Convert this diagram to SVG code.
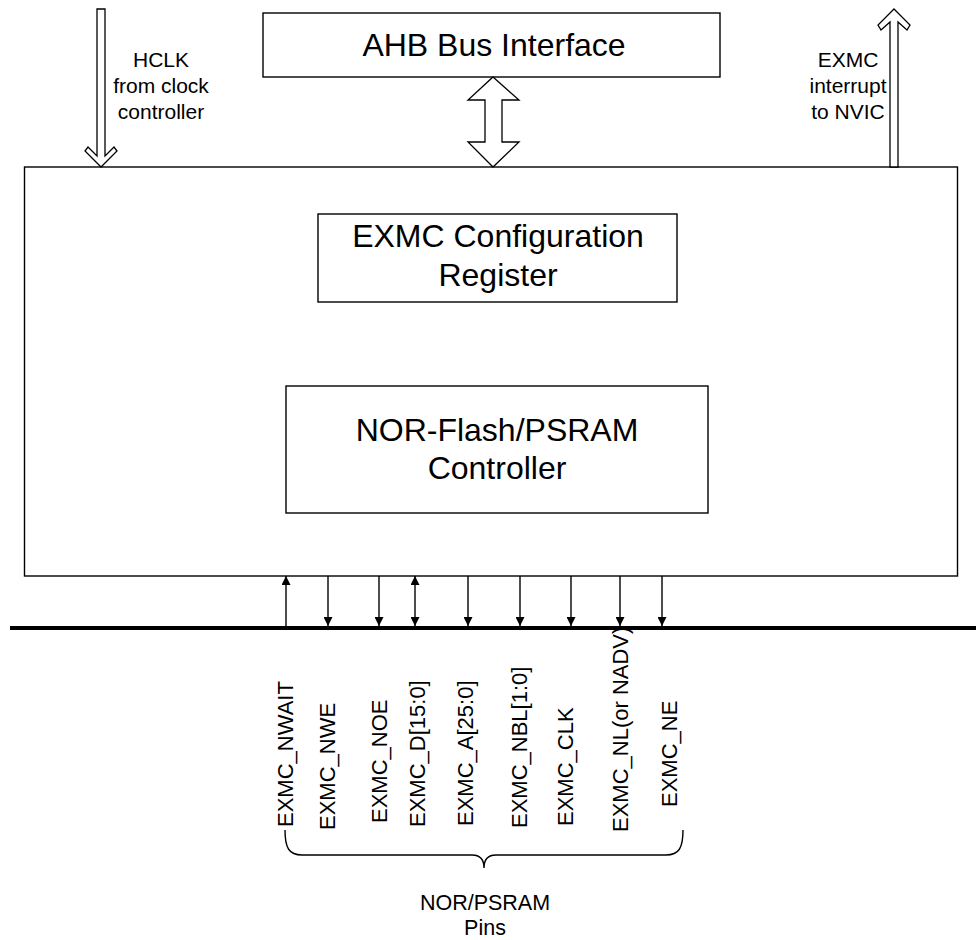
<svg xmlns="http://www.w3.org/2000/svg" width="976" height="940" viewBox="0 0 976 940">
<defs>
<style>
.box{fill:#fff;stroke:#000;stroke-width:1.4}
.big{font-family:"Liberation Sans",Arial,sans-serif;font-size:32px;fill:#000;text-anchor:middle}
.sm{font-family:"Liberation Sans",Arial,sans-serif;font-size:21px;fill:#000;text-anchor:middle}
.pin{font-family:"Liberation Sans",Arial,sans-serif;font-size:22px;fill:#000}
.blk{fill:#fff;stroke:#000;stroke-width:1.3;stroke-linejoin:miter}
.ln{stroke:#000;stroke-width:1.4;fill:none}
</style>
<marker id="ah" viewBox="0 0 10 10" refX="10" refY="5" markerWidth="9" markerHeight="9" markerUnits="userSpaceOnUse" orient="auto">
<path d="M0,0 L10,5 L0,10 Z" fill="#000"/>
</marker>
<marker id="ahs" viewBox="0 0 10 10" refX="0" refY="5" markerWidth="9" markerHeight="9" markerUnits="userSpaceOnUse" orient="auto">
<path d="M10,0 L0,5 L10,10 Z" fill="#000"/>
</marker>
</defs>
<rect width="976" height="940" fill="#fff"/>

<g id="main">
<rect class="box" x="24.5" y="167" width="933" height="409"/>
</g>
<g id="ahb">
<rect class="box" x="263" y="13" width="457" height="64"/>
<text class="big" x="494" y="56">AHB Bus Interface</text>
</g>
<g id="config">
<rect class="box" x="318" y="214" width="359" height="88"/>
<text class="big" x="498" y="247">EXMC Configuration</text>
<text class="big" x="498" y="286">Register</text>
</g>
<g id="nor">
<rect class="box" x="286" y="386" width="422" height="127"/>
<text class="big" x="497" y="441">NOR-Flash/PSRAM</text>
<text class="big" x="497" y="479">Controller</text>
</g>
<g id="hclk">
<text class="sm" x="161" y="67">HCLK</text>
<text class="sm" x="161" y="93">from clock</text>
<text class="sm" x="161" y="119">controller</text>
</g>
<g id="irq">
<text class="sm" x="848" y="67">EXMC</text>
<text class="sm" x="848" y="93">interrupt</text>
<text class="sm" x="848" y="119">to NVIC</text>
</g>
<g id="bus">
<line x1="10" y1="628" x2="976" y2="628" stroke="#000" stroke-width="4"/>
</g>

<g id="connectors">
<polygon class="blk" points="97,9 105,9 105,156 114,147 117,151 101,167 85,151 88,147 97,156"/>
<polygon class="blk" points="890,167 890,22 881,30 878,25 894,9 910,25 907,30 898,22 898,167"/>
<polygon class="blk" points="493,77 519,100 502,100 502,142 519,142 493,167 468,142 485,142 485,100 468,100"/>
<line class="ln" x1="286" y1="626" x2="286" y2="576" marker-end="url(#ah)"/>
<line class="ln" x1="328" y1="576" x2="328" y2="626" marker-end="url(#ah)"/>
<line class="ln" x1="379" y1="576" x2="379" y2="626" marker-end="url(#ah)"/>
<line class="ln" x1="415" y1="576" x2="415" y2="626" marker-start="url(#ahs)" marker-end="url(#ah)"/>
<line class="ln" x1="468" y1="576" x2="468" y2="626" marker-end="url(#ah)"/>
<line class="ln" x1="520" y1="576" x2="520" y2="626" marker-end="url(#ah)"/>
<line class="ln" x1="571" y1="576" x2="571" y2="626" marker-end="url(#ah)"/>
<line class="ln" x1="620" y1="576" x2="620" y2="626" marker-end="url(#ah)"/>
<line class="ln" x1="662" y1="576" x2="662" y2="626" marker-end="url(#ah)"/>
</g>

<g id="pins">
<text class="pin" transform="translate(293,827) rotate(-90)">EXMC_NWAIT</text>
<text class="pin" transform="translate(335,830) rotate(-90)">EXMC_NWE</text>
<text class="pin" transform="translate(387,823) rotate(-90)">EXMC_NOE</text>
<text class="pin" transform="translate(425,827) rotate(-90)">EXMC_D[15:0]</text>
<text class="pin" transform="translate(473,826) rotate(-90)">EXMC_A[25:0]</text>
<text class="pin" transform="translate(527,828) rotate(-90)">EXMC_NBL[1:0]</text>
<text class="pin" transform="translate(573,826) rotate(-90)">EXMC_CLK</text>
<text class="pin" transform="translate(628,832) rotate(-90)">EXMC_NL(or NADV)</text>
<text class="pin" transform="translate(677,807) rotate(-90)">EXMC_NE</text>
</g>

<g id="brace">
<path class="ln" d="M285,830 C285,848 289,855 302,855 L472,855 C480,855 484,859 484,868 C484,859 488,855 496,855 L666,855 C679,855 683,848 683,830"/>
<text class="pin" x="485" y="910" text-anchor="middle" style="font-size:21.5px">NOR/PSRAM</text>
<text class="pin" x="485" y="935" text-anchor="middle" style="font-size:21.5px">Pins</text>
</g>
</svg>
